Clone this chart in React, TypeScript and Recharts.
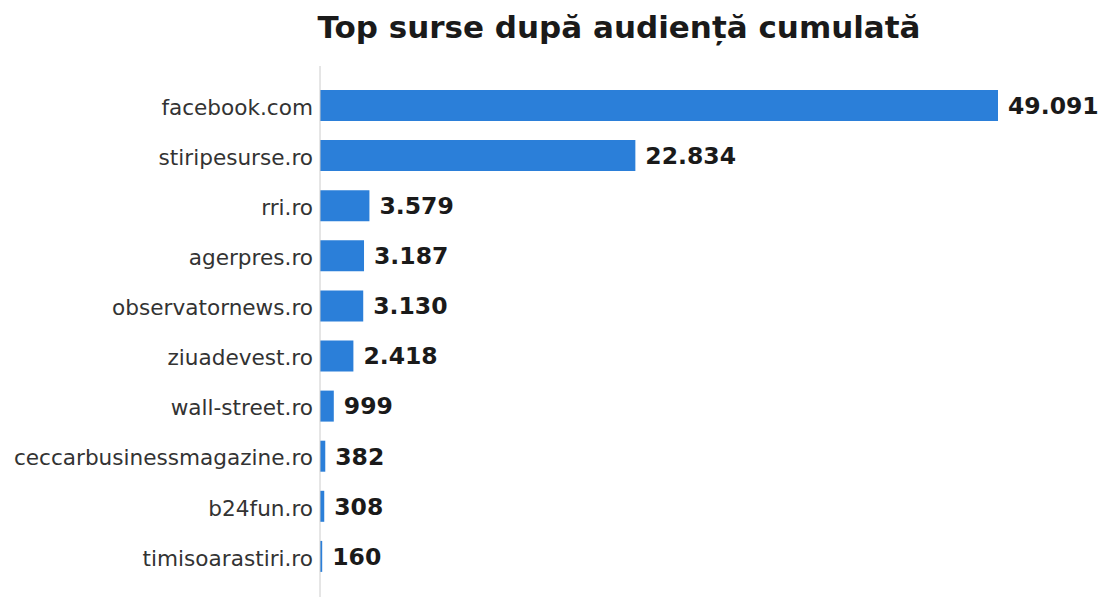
import { BarChart, Bar, XAxis, YAxis, LabelList, Customized } from 'recharts';

const sources = [
  'facebook.com',
  'stiripesurse.ro',
  'rri.ro',
  'agerpres.ro',
  'observatornews.ro',
  'ziuadevest.ro',
  'wall-street.ro',
  'ceccarbusinessmagazine.ro',
  'b24fun.ro',
  'timisoarastiri.ro',
];

const audience = [49091, 22834, 3579, 3187, 3130, 2418, 999, 382, 308, 160];

const data = sources.map((name, i) => ({ name, value: audience[i] }));

const FONT = '"DejaVu Sans", sans-serif';

const formatValue = (v: number) => v.toLocaleString('de-DE');

export default function App() {
  return (
    <div style={{ position: 'absolute', left: 0, top: 0, fontFamily: FONT }}>
      <BarChart
        width={1112}
        height={609}
        data={data}
        layout="vertical"
        margin={{ top: 66, right: 114, bottom: 12, left: 0 }}
      >
        <XAxis type="number" domain={[0, 49091]} hide />
        <YAxis
          type="category"
          dataKey="name"
          width={320}
          padding={{ top: 14, bottom: 16 }}
          tickLine={false}
          tickSize={0}
          tickMargin={7}
          axisLine={{ stroke: '#cccccc', strokeWidth: 1 }}
          tick={{ fontSize: 21.6, fill: '#333333', fontFamily: FONT, dy: 2 }}
          interval={0}
        />
        <Bar dataKey="value" fill="#2b7fd9" barSize={31} isAnimationActive={false}>
          <LabelList
            dataKey="value"
            position="right"
            offset={10}
            formatter={(v: number) => formatValue(v)}
            style={{ fontSize: 23.5, fontWeight: 'bold', fill: '#1a1a1a', fontFamily: FONT }}
          />
        </Bar>
        <Customized
          component={() => (
            <text
              x={619}
              y={38}
              textAnchor="middle"
              style={{ fontSize: 31, fontWeight: 'bold', fill: '#1a1a1a', fontFamily: FONT }}
            >
              Top surse după audiență cumulată
            </text>
          )}
        />
      </BarChart>
    </div>
  );
}
